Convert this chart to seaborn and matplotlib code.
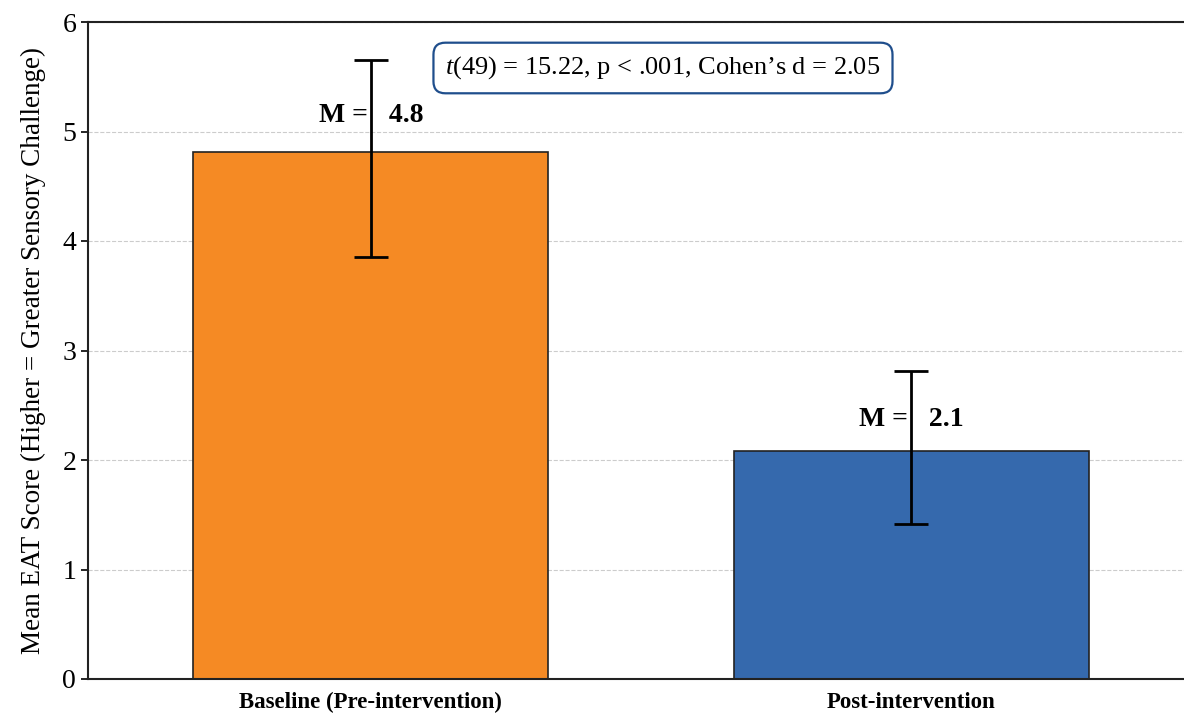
import matplotlib

matplotlib.use("Agg")
import matplotlib.pyplot as plt
import pandas as pd
import seaborn as sns

# Data
conditions = ["Baseline (Pre-intervention)", "Post-intervention"]
mean_scores = [4.81, 2.08]
err_low = [0.96, 0.665]
err_high = [0.84, 0.73]
bar_colors = ["#F58A24", "#3569AD"]
stats_text = r"$t$(49) = 15.22, p < .001, Cohen’s d = 2.05"

df = pd.DataFrame({"condition": conditions, "mean": mean_scores})

sns.set_style("white")
plt.rcParams["font.family"] = ["Liberation Serif", "DejaVu Serif"]
plt.rcParams["mathtext.fontset"] = "custom"
plt.rcParams["mathtext.it"] = "Liberation Serif:italic"
plt.rcParams["mathtext.rm"] = "Liberation Serif"
plt.rcParams["text.color"] = "black"
plt.rcParams["ytick.color"] = "black"
plt.rcParams["xtick.color"] = "black"
plt.rcParams["axes.labelcolor"] = "black"

fig = plt.figure(figsize=(11.84, 7.14), dpi=100)
ax = fig.add_axes([88 / 1184, 35 / 714, 1110 / 1184, 657 / 714])

sns.barplot(
    data=df,
    x="condition",
    y="mean",
    hue="condition",
    palette=dict(zip(conditions, bar_colors)),
    saturation=1,
    width=0.656,
    errorbar=None,
    edgecolor="#222222",
    linewidth=1.2,
    legend=False,
    ax=ax,
    zorder=2,
)
ax.errorbar(
    range(len(conditions)),
    df["mean"],
    yerr=[err_low, err_high],
    fmt="none",
    ecolor="black",
    elinewidth=2,
    capsize=12,
    capthick=2,
    zorder=3,
)

# value labels, split around the error bar
label_gap = [0.34, 0.29]
for i, m in enumerate(mean_scores):
    ax.text(i, m + label_gap[i], f"M =   {m:.1f}", ha="center", va="center",
            fontsize=20, fontweight="bold", zorder=4)

ax.text(0.518, 0.93, stats_text, transform=ax.transAxes, ha="center", va="center",
        fontsize=19,
        bbox=dict(boxstyle="round,pad=0.45", facecolor="white", edgecolor="#1F4E8C", linewidth=1.6))

ax.set_ylim(0, 6)
ax.set_xlim(-0.523, 1.53)
ax.yaxis.grid(True, linestyle="--", color="#cccccc", linewidth=0.8, zorder=0)
ax.set_axisbelow(True)
ax.set_xlabel("")
ax.set_ylabel("Mean EAT Score (Higher = Greater Sensory Challenge)", fontsize=19.5, labelpad=12)
ax.tick_params(axis="y", labelsize=20, left=True, length=5, width=1.2)
ax.tick_params(axis="x", length=0, pad=9)
for lbl in ax.get_xticklabels():
    lbl.set_fontweight("bold")
    lbl.set_fontsize(16.5)
for sp in ["left", "bottom", "top"]:
    ax.spines[sp].set_linewidth(1.5)
    ax.spines[sp].set_color("#222222")
ax.spines["right"].set_visible(False)

fig.savefig("out.png", dpi=100)
